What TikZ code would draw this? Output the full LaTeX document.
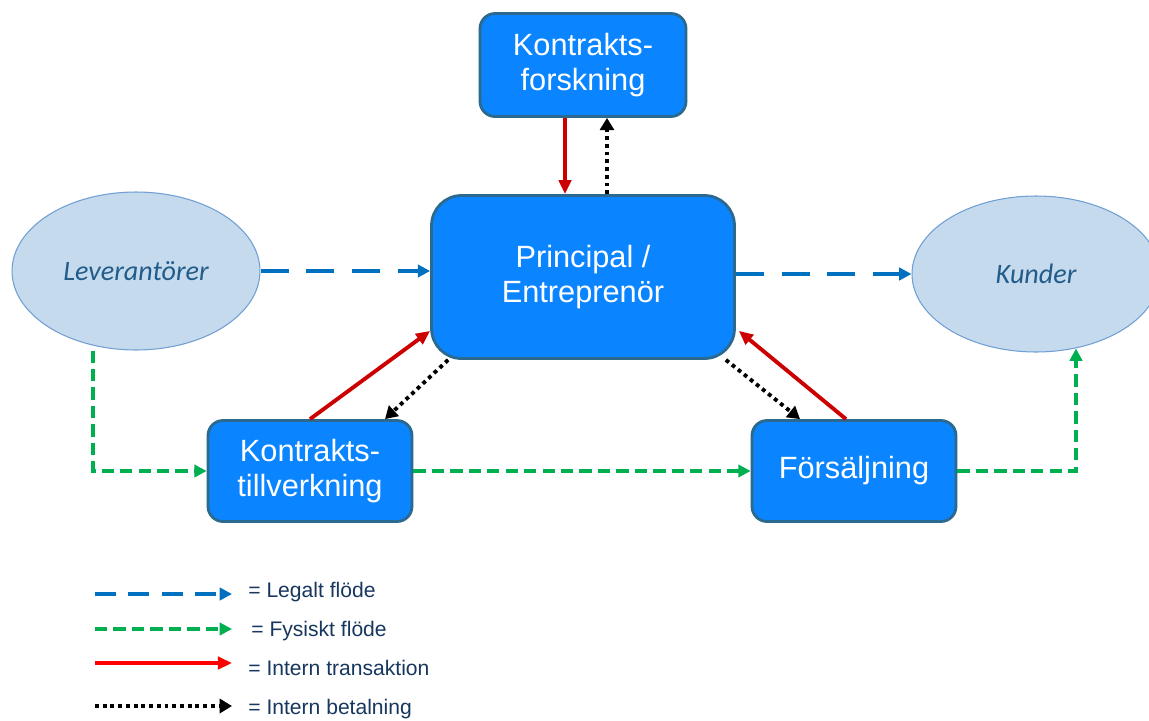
\documentclass[tikz,border=0pt]{standalone}
\usepackage{fontspec}
\setmainfont{Liberation Sans}
\newfontfamily\ellfont{Carlito}
\usetikzlibrary{arrows.meta,shapes.geometric}
\definecolor{boxblue}{HTML}{0A84FF}
\definecolor{boxedge}{HTML}{2B6A8E}
\definecolor{ellfill}{HTML}{C6DAEE}
\definecolor{elledge}{HTML}{6F9FD3}
\definecolor{elltext}{HTML}{215C8A}
\definecolor{legalblue}{HTML}{0070C0}
\definecolor{physgreen}{HTML}{00B050}
\definecolor{transred}{HTML}{CC0000}
\definecolor{legtext}{HTML}{17375E}
\begin{document}
\begin{tikzpicture}[x=0.02cm,y=-0.02cm,
    box/.style={draw=boxedge,line width=1.6pt,fill=boxblue,text=white,
      align=center,rounded corners=0.3cm,inner sep=0pt,
      font=\fontsize{17.5}{19.5}\selectfont},
    party/.style={ellipse,draw=elledge,line width=0.6pt,fill=ellfill,
      text=elltext,inner sep=0pt,font=\ellfont\itshape\fontsize{16}{19}\selectfont},
    legal/.style={legalblue,line width=2.3pt,dash pattern=on 16pt off 10pt,
      -{Triangle[length=7pt,width=7pt]}},
    phys/.style={physgreen,line width=2pt,dash pattern=on 7pt off 3.5pt,
      -{Triangle[length=7pt,width=7pt]}},
    trans/.style={transred,line width=2.2pt,-{Triangle[length=8pt,width=7pt]}},
    pay/.style={black,line width=2.2pt,dash pattern=on 2.2pt off 2.2pt,
      -{Triangle[length=7pt,width=8pt]}},
    legtxt/.style={anchor=west,text=legtext,inner sep=0pt,
      font=\fontsize{12}{14}\selectfont}]
  \useasboundingbox (0,0) rectangle (1149,720);
  \node[box,minimum width=4.12cm,minimum height=2.06cm] (forsk) at (583,65) {Kontrakts-\\forskning};
  \node[box,minimum width=6.06cm,minimum height=3.26cm,rounded corners=0.6cm] (prin) at (583,277) {Principal /\\Entreprenör};
  \node[party,minimum width=4.96cm,minimum height=3.16cm] (lev) at (136,271) {Leverantörer};
  \node[party,minimum width=4.96cm,minimum height=3.12cm] (kund) at (1036,274) {Kunder};
  \node[box,minimum width=4.08cm,minimum height=2.02cm] (tillv) at (310,471) {Kontrakts-\\tillverkning};
  \node[box,minimum width=4.08cm,minimum height=2.02cm] (fors) at (854,471) {Försäljning};
  \begin{scope}
    \draw[trans] ([xshift=-0.36cm]forsk.south) to ([xshift=-0.36cm]prin.north);
    \draw[pay] ([xshift=0.48cm]prin.north) to ([xshift=0.48cm]forsk.south);
    \draw[legal] (lev.east) to (lev.east -| prin.west);
    \draw[legal] (prin.east |- kund.west) to (kund.west);
    \draw[trans] (tillv.north) to ([yshift=0.58cm]prin.south west);
    \draw[pay] ([xshift=0.36cm]prin.south west) to ([xshift=1.5cm]tillv.north);
    \draw[pay] ([xshift=-0.2cm]prin.south east) to ([xshift=-1.08cm]fors.north);
    \draw[trans] ([xshift=-0.16cm]fors.north) to ([yshift=0.58cm,xshift=0.06cm]prin.south east);
    \draw[phys] ([xshift=-0.86cm]lev.south) |- (tillv.west);
    \draw[phys] (tillv.east) to (fors.west);
    \draw[phys] (fors.east) -| ([xshift=0.8cm,yshift=0.08cm]kund.south);
  \end{scope}
  \coordinate (l1a) at (95,594);
  \coordinate (l1b) at (232,594);
  \coordinate (l2a) at (95,629);
  \coordinate (l2b) at (232,629);
  \coordinate (l3a) at (95,663);
  \coordinate (l3b) at (232,663);
  \coordinate (l4a) at (95,706);
  \coordinate (l4b) at (232,706);
  \draw[legal,dash pattern=on 12pt off 7pt] (l1a) to (l1b);
  \draw[phys] (l2a) to (l2b);
  \draw[trans,red] (l3a) to (l3b);
  \draw[pay] (l4a) to (l4b);
  \node[legtxt] (t1) at (248,592) {= Legalt flöde};
  \node[legtxt] (t2) at (251,631) {= Fysiskt flöde};
  \node[legtxt] (t3) at (248,668) {= Intern transaktion};
  \node[legtxt] (t4) at (248,709) {= Intern betalning};
\end{tikzpicture}
\end{document}
